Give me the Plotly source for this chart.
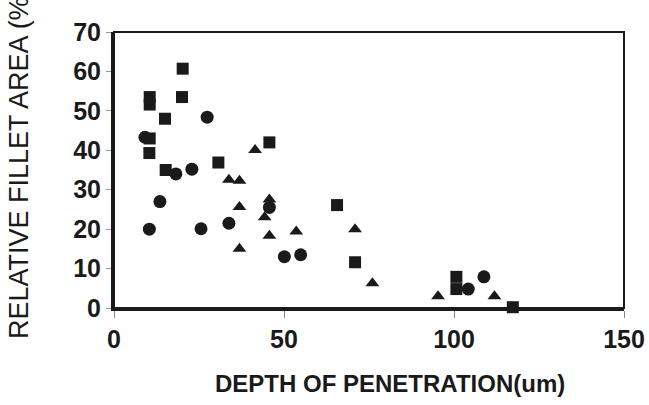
import plotly.graph_objects as go

# Data
square_x = [20.2, 20.0, 10.5, 10.5, 15.0, 10.5, 10.4, 15.2, 30.7, 45.7, 65.6, 70.9, 100.7, 100.7, 117.3]
square_y = [60.7, 53.5, 53.5, 51.6, 48.0, 43.0, 39.3, 35.0, 36.9, 42.0, 26.1, 11.6, 7.9, 4.8, 0.2]

circle_x = [9.1, 27.4, 18.2, 22.9, 13.5, 10.4, 25.6, 33.8, 45.7, 50.1, 54.9, 104.2, 108.8]
circle_y = [43.3, 48.4, 34.0, 35.2, 27.0, 20.0, 20.1, 21.5, 25.5, 13.0, 13.5, 4.8, 7.9]

tri_x = [41.5, 33.8, 36.9, 36.9, 36.9, 45.7, 44.3, 45.7, 53.6, 70.9, 76.0, 95.3, 111.9]
tri_y = [40.1, 32.5, 32.3, 25.6, 15.0, 27.5, 23.0, 18.3, 19.4, 20.0, 6.3, 3.0, 3.0]

x_ticks = [0, 50, 100, 150]
y_ticks = [0, 10, 20, 30, 40, 50, 60, 70]

FONT = "Liberation Sans, Arial, sans-serif"

fig = go.Figure()
fig.add_trace(go.Scatter(x=square_x, y=square_y, mode="markers",
                         marker=dict(symbol="square", size=12, color="#1a1a1a"),
                         cliponaxis=False, showlegend=False))
fig.add_trace(go.Scatter(x=circle_x, y=circle_y, mode="markers",
                         marker=dict(symbol="circle", size=13, color="#1a1a1a"),
                         cliponaxis=False, showlegend=False))
fig.add_trace(go.Scatter(x=tri_x, y=tri_y, mode="markers",
                         marker=dict(symbol="triangle-up", size=12, color="#1a1a1a"),
                         cliponaxis=False, showlegend=False))

fig.update_layout(
    width=649, height=405,
    margin=dict(l=114, r=25, t=32, b=97, autoexpand=False),
    paper_bgcolor="white", plot_bgcolor="white",
    font=dict(family=FONT, color="#1a1a1a"),
    xaxis=dict(range=[0, 150], tickvals=x_ticks, ticktext=[str(v) for v in x_ticks],
               showgrid=False, zeroline=False,
               showline=True, linewidth=3, linecolor="#1a1a1a",
               ticks="outside", ticklen=7, tickwidth=1, tickcolor="#888888",
               tickfont=dict(size=25, family=FONT, weight="bold", color="#1a1a1a")),
    yaxis=dict(range=[0, 70], tickvals=y_ticks, ticktext=[str(v) for v in y_ticks],
               showgrid=False, zeroline=False,
               showline=True, linewidth=3, linecolor="#1a1a1a",
               ticks="outside", ticklen=5, tickwidth=1, tickcolor="#999999",
               tickfont=dict(size=25, family=FONT, weight="bold", color="#1a1a1a")),
    shapes=[dict(type="rect", xref="paper", yref="paper", x0=0, x1=1, y0=0, y1=1,
                 line=dict(color="#1a1a1a", width=2), layer="above")],
    annotations=[
        dict(text="DEPTH OF PENETRATION(um)", xref="paper", yref="paper",
             x=(390 - 114) / 510, y=(308 - 384) / 276, xanchor="center", yanchor="middle",
             showarrow=False, font=dict(size=24, family=FONT, weight="bold", color="#1a1a1a")),
        dict(text="RELATIVE FILLET AREA (%)", xref="paper", yref="paper", textangle=-90,
             x=(19 - 114) / 510, y=(308 - 341) / 276, xanchor="center", yanchor="bottom",
             showarrow=False, font=dict(size=27, family=FONT, color="#1a1a1a")),
    ],
)

fig.write_html("out.html",
               config={"displayModeBar": False},
               post_script="document.body.style.margin='0';document.body.style.overflow='hidden';")
